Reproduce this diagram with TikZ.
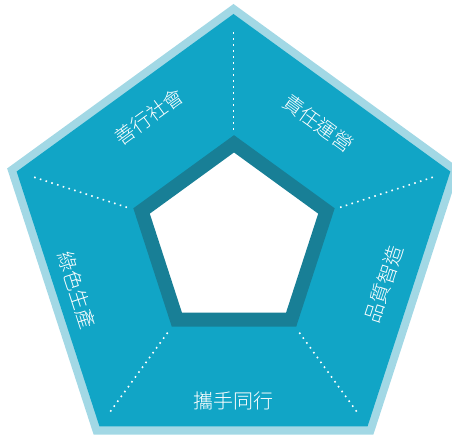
\documentclass[tikz,border=0pt]{standalone}
\usepackage{fontspec}
\newfontfamily\cjk{Noto Sans CJK TC Light}
\usetikzlibrary{calc}
\definecolor{rimblue}{RGB}{162,216,229}
\definecolor{fillblue}{RGB}{17,165,198}
\definecolor{ringblue}{RGB}{24,127,150}

\begin{document}
\begin{tikzpicture}[x=1pt, y=1pt,
    dots/.style={white, line width=1.6pt, dash pattern=on 1.6pt off 4.4pt},
    seg/.style={text=white, font=\cjk\fontsize{20}{20}\selectfont, inner sep=0pt}]
\useasboundingbox (0,0) rectangle (452,437);
\coordinate (c) at (233.5,195);
% Draw outer pentagon
\fill[rimblue, shift={(c)}] (90:238) -- (162:238) -- (234:238) -- (306:238) -- (18:238) -- cycle;
\fill[fillblue, shift={(c)}] (90:228) -- (162:228) -- (234:228) -- (306:228) -- (18:228) -- cycle;
% Draw inner pentagon
\filldraw[fill=white, draw=ringblue, line width=14pt, miter limit=4, shift={(234,196)}]
    (90:97.2) -- (162:97.2) -- (234:97.2) -- (306:97.2) -- (18:97.2) -- cycle;
% Draw dotted dividers
\foreach \a [count=\i] in {90,162,234,306,18} {
    \coordinate (in\i) at ($(c)+(\a:112)$);
    \coordinate (out\i) at ($(c)+(\a:211)$);
    \draw[dots] (in\i) -- (out\i);
}
% Draw labels
\foreach \a/\r/\rot/\txt [count=\i] in {124/151/36/善行社會, 54.5/146/-36/責任運營,
        -15.5/156/72/品質智造, -90/159/0/攜手同行, 197/164/-72/綠色生產}
    \node[seg, rotate=\rot] (lbl\i) at ($(c)+(\a:\r)$) {\txt};
\end{tikzpicture}
\end{document}
